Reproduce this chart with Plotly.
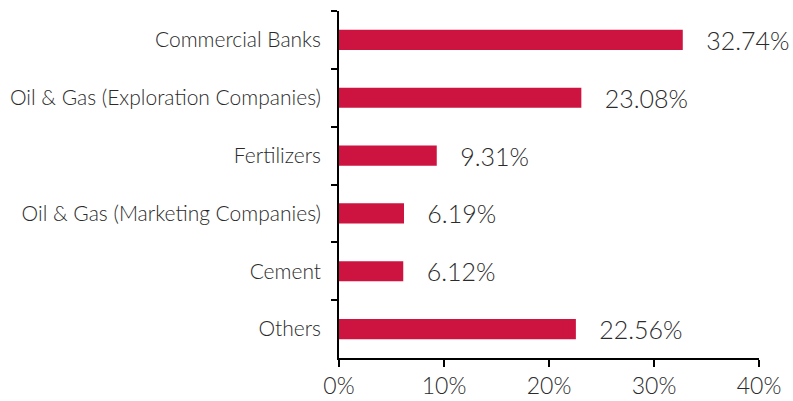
import plotly.graph_objects as go

categories = [
    "Commercial Banks",
    "Oil & Gas (Exploration Companies)",
    "Fertilizers",
    "Oil & Gas (Marketing Companies)",
    "Cement",
    "Others",
]
values = [32.74, 23.08, 9.31, 6.19, 6.12, 22.56]
tick_vals = [0, 10, 20, 30, 40]
tick_text = ["0%", "10%", "20%", "30%", "40%"]

BAR = "#CD1441"
TXT = "#2B2B2B"
FONT = "Lato"

fig = go.Figure(
    go.Bar(
        x=values,
        y=categories,
        orientation="h",
        marker=dict(color=BAR, line=dict(width=0)),
        text=["   " + f"{v:.2f}%" for v in values],
        textposition="outside",
        textfont=dict(family=FONT, size=25, color=TXT, weight=300),
        cliponaxis=False,
        constraintext="none",
        hoverinfo="skip",
    )
)

fig.update_layout(
    width=793,
    height=401,
    margin=dict(l=339, r=34, t=11, b=43, autoexpand=False),
    paper_bgcolor="white",
    plot_bgcolor="white",
    bargap=0.65,
    showlegend=False,
    font=dict(family=FONT, color=TXT, weight=300),
)
fig.update_xaxes(
    range=[0, 40],
    tickvals=tick_vals,
    ticktext=tick_text,
    automargin=False,
    showgrid=False,
    zeroline=False,
    showline=True,
    linecolor="black",
    linewidth=1.5,
    ticks="outside",
    ticklen=7,
    tickwidth=1.5,
    tickcolor="black",
    tickfont=dict(family=FONT, size=23, color=TXT, weight=300),
)
fig.update_yaxes(
    categoryorder="array",
    categoryarray=categories,
    autorange="reversed",
    automargin=False,
    showgrid=False,
    zeroline=False,
    showline=True,
    linecolor="black",
    linewidth=1.5,
    ticks="outside",
    tickson="boundaries",
    ticklen=6,
    tickwidth=1.5,
    tickcolor="black",
    tickfont=dict(family=FONT, size=21, color=TXT, weight=300),
    ticklabelstandoff=12,
)

fig.write_html(
    "out.html",
    config={"displayModeBar": False},
    post_script="document.body.style.margin='0';document.body.style.padding='0';",
)
